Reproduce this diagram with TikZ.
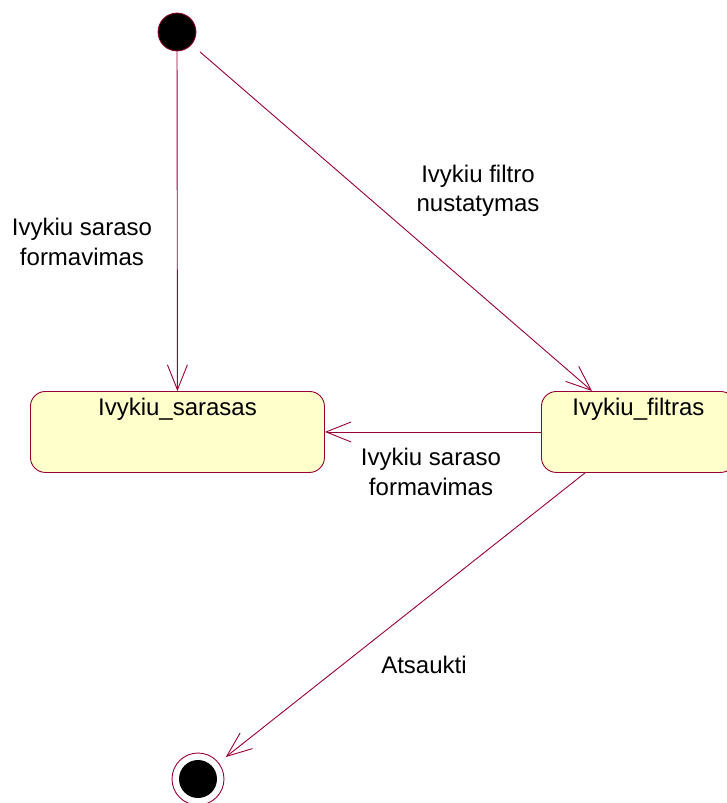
\documentclass[tikz,border=0pt]{standalone}
\usepackage{fontspec}
\setmainfont{Liberation Sans}
\usetikzlibrary{arrows.meta,calc}
\definecolor{roseline}{RGB}{153,0,51}
\definecolor{rosefill}{RGB}{255,255,204}
\begin{document}
\begin{tikzpicture}[x=1pt,y=-1pt,
  every node/.style={font=\fontsize{24}{29.5}\selectfont},
  statebox/.style={draw=roseline, fill=rosefill, line width=0.9pt,
    rounded corners=15pt, minimum width=#1, minimum height=81pt,
    anchor=north west, inner sep=0pt},
  startdot/.style={circle, draw=roseline, fill=black, line width=0.8pt,
    minimum size=38pt, inner sep=0pt},
  trans/.style={draw=roseline, line width=0.9pt,
    -{Straight Barb[length=25pt,width=20pt,line width=0.9pt]}},
  lbl/.style={align=center, inner sep=0pt}]
  \useasboundingbox (0,0) rectangle (727,803);

  % pseudo states
  \node[startdot] (init) at (177,32) {};
  \node[circle, draw=roseline, line width=0.9pt, minimum size=52pt,
        inner sep=0pt] (fin) at (198,779) {};
  \node[startdot, draw=none] (finDot) at (fin.center) {};

  % states
  \node[statebox=294pt,
        label={[anchor=north, inner sep=0pt, yshift=-7pt]north:Ivykiu\_sarasas}]
        (s1) at (30,391) {};
  \node[statebox=194pt,
        label={[anchor=north, inner sep=0pt, yshift=-7pt]north:Ivykiu\_filtras}]
        (s2) at (541,391) {};

  % attachment points on the filter state
  \coordinate (s2in)  at ($(s2.north west)+(51,0)$);
  \coordinate (s2out) at ($(s2.south west)+(44,0)$);

  % transitions
  \draw[trans] (init) -- (s1.north);
  \draw[trans, shorten <=11pt] (init) -- (s2in);
  \draw[trans] (s2.west) -- (s1.east);
  \draw[trans, shorten >=9pt] (s2out) -- (fin);

  % transition labels
  \node[lbl] (l1) at (82,242) {Ivykiu saraso\\formavimas};
  \node[lbl] (l2) at (478,191) {Ivykiu filtro\\nustatymas};
  \node[lbl] (l3) at (431,472) {Ivykiu saraso\\formavimas};
  \node[lbl] (l4) at (424,665) {Atsaukti};
\end{tikzpicture}
\end{document}
